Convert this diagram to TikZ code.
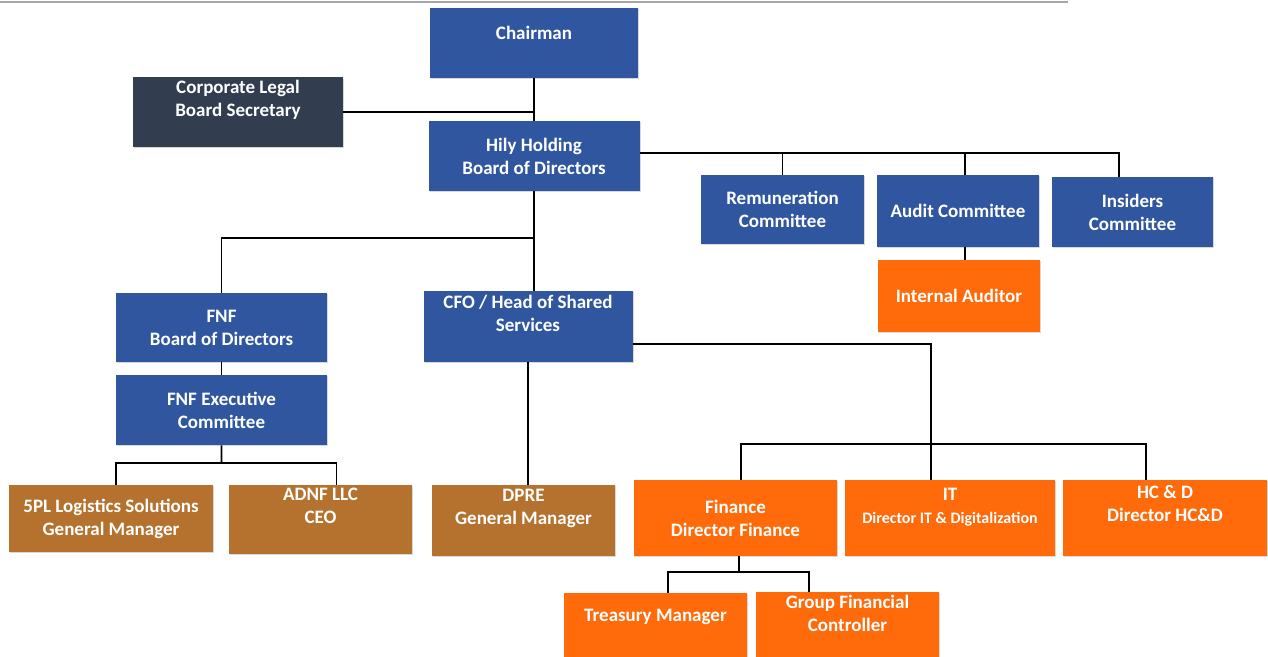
\documentclass[tikz,border=0pt]{standalone}
\usepackage{fontspec}
\setmainfont{Carlito}
\usepackage{tikz}
\usetikzlibrary{positioning, shadows}
\usetikzlibrary{calc}
\definecolor{boardblue}{RGB}{47,86,158}
\definecolor{legalnavy}{RGB}{50,62,80}
\definecolor{unitorange}{RGB}{255,106,10}
\definecolor{companybrown}{RGB}{181,114,47}
\tikzstyle{box} = [rectangle, text=white, align=center, inner sep=2pt, font=\fontsize{11.4}{13.8}\selectfont\bfseries, drop shadow={shadow xshift=0.7pt, shadow yshift=-0.9pt, opacity=0.3}]
\tikzstyle{board} = [box, fill=boardblue]
\tikzstyle{legal} = [box, fill=legalnavy]
\tikzstyle{unit} = [box, fill=unitorange]
\tikzstyle{company} = [box, fill=companybrown]
\tikzstyle{link} = [line width=1.1pt, black]

\begin{document}
\begin{tikzpicture}[x=0.6pt, y=-0.6pt, on grid]
		\clip (0,0) rectangle (1268,657);
		\fill[white] (0,0) rectangle (1268,657);
		\draw[gray!70, line width=1.2pt] (0,2) -- (1068,2);
		\node (chair) [board, minimum width=124.8pt, minimum height=42pt, text depth=12pt] at (534,43) {Chairman};
		\node (legal) [legal, minimum width=126pt, minimum height=40.8pt, text depth=16pt, below left=41.4pt and 177.6pt of chair] {Corporate Legal\\Board Secretary};
		\node (hily) [board, minimum width=126.6pt, minimum height=42pt, below=67.8pt of chair] {Hily Holding\\Board of Directors};
		\node (rem) [board, minimum width=97.8pt, minimum height=41.4pt, below right=32.1pt and 149.1pt of hily] {Remuneration\\Committee};
		\node (aud) [board, minimum width=97.2pt, minimum height=43.2pt, right=105.3pt of rem, yshift=-0.9pt] {Audit Committee};
		\node (ins) [board, minimum width=96.6pt, minimum height=42pt, right=104.7pt of aud, yshift=-0.6pt] {Insiders\\Committee};
		\node (ia) [unit, minimum width=97.2pt, minimum height=43.2pt, below=51pt of aud, xshift=0.6pt] {Internal Auditor};
		\node (cfo) [board, minimum width=125.4pt, minimum height=42.6pt, text depth=16pt, below=102.3pt of hily, xshift=-3.6pt] {CFO / Head of Shared\\Services};
		\node (fnf) [board, minimum width=126.6pt, minimum height=41.4pt, left=183.9pt of cfo, yshift=-0.6pt] {FNF\\Board of Directors};
		\node (fnfx) [board, minimum width=126.6pt, minimum height=42pt, below=49.5pt of fnf] {FNF Executive\\Committee};
		\node (spl) [company, minimum width=122.4pt, minimum height=40.2pt, below left=65.1pt and 66.3pt of fnfx] {5PL Logistics Solutions\\General Manager};
		\node (adnf) [company, minimum width=109.8pt, minimum height=41.4pt, text depth=16pt, right=125.7pt of spl, yshift=-0.6pt] {ADNF LLC\\CEO};
		\node (dpre) [company, minimum width=109.8pt, minimum height=42.6pt, text depth=16pt, below=116.4pt of cfo, xshift=-2.7pt] {DPRE\\General Manager};
		\node (fin) [unit, minimum width=121.8pt, minimum height=45.6pt, right=127.2pt of dpre, yshift=1.5pt] {Finance\\Director Finance};
		\node (it) [unit, minimum width=126pt, minimum height=45.6pt, text depth=15pt, right=128.7pt of fin] {IT\\{\fontsize{9.6}{13.2}\selectfont Director IT \& Digitalization}};
		\node (hcd) [unit, minimum width=122.4pt, minimum height=45.6pt, text depth=17pt, right=129pt of it] {HC \& D\\Director HC\&D};
		\node (tre) [unit, minimum width=109.8pt, minimum height=43.2pt, text depth=16.8pt, below left=66.6pt and 48pt of fin] {Treasury Manager};
		\node (gfc) [unit, minimum width=109.8pt, minimum height=43.2pt, text depth=21pt, right=115.2pt of tre, yshift=-1.2pt] {Group Financial\\Controller};
		\coordinate (jfnf) at ($(hily.south)!0.47!(hily.south |- cfo.north)$);
		\coordinate (jspl) at ($(fnfx.south)!0.45!(fnfx.south |- spl.north)$);
		\coordinate (jcfo) at ($([xshift=-11.4pt]it.north)+(0,21.6pt)$);
		\coordinate (jfin) at ($([xshift=2pt]fin.south)+(0,-9.6pt)$);
		\draw [link](chair.south) -- (chair.south |- hily.north);
		\draw [link](legal.east) -- (legal.east -| chair.south);
		\draw [link]([yshift=2pt]hily.east) -| (rem.north);
		\draw [link]([yshift=2pt]hily.east) -| ([xshift=4.2pt]aud.north);
		\draw [link]([yshift=2pt]hily.east) -| ([xshift=-8pt]ins.north);
		\draw [link]([xshift=4.2pt]aud.south) -- ([xshift=4.2pt]aud.south |- ia.north);
		\draw [link](hily.south) -- (hily.south |- cfo.north);
		\draw [link](jfnf) -| (fnf.north);
		\draw [link](fnf) -- (fnfx);
		\draw [link](fnfx.south) -- (jspl);
		\draw [link](jspl) -| ([xshift=3pt]spl.north);
		\draw [link](jspl) -| ([xshift=9.6pt]adnf.north);
		\draw [link](cfo.south) -- (cfo.south |- dpre.north);
		\draw [link]([yshift=-10.5pt]cfo.east) -| ([xshift=-11.4pt]it.north);
		\draw [link]([xshift=3.3pt]fin.north) |- (jcfo) -| ([xshift=-11.4pt]hcd.north);
		\draw [link]([xshift=2pt]fin.south) -- (jfin);
		\draw [link](jfin) -| ([xshift=7.5pt]tre.north);
		\draw [link](jfin) -| ([xshift=-23pt]gfc.north);
	\end{tikzpicture}
\end{document}
